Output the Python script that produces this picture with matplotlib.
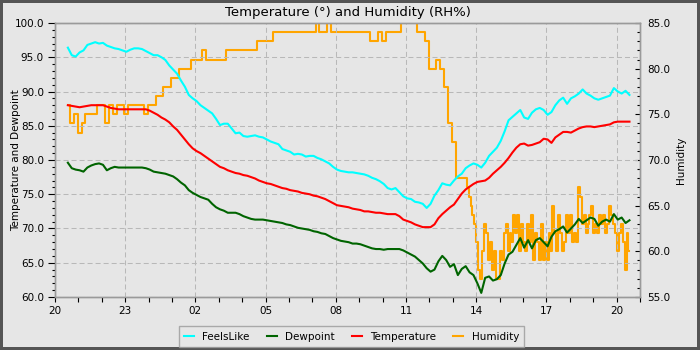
import pandas as pd
import matplotlib
matplotlib.use("Agg")
import matplotlib.pyplot as plt
import matplotlib.dates as mdates
from matplotlib.ticker import MultipleLocator, FormatStrFormatter

# one reading every 10 minutes, first one at 20:33
start_time = "2024-06-01 20:33"
step = "10min"

feels_like = [
    96.4, 95.3, 95.1, 95.7, 96.0, 96.8, 97.0, 97.2, 97.0, 97.1,
    96.7, 96.5, 96.3, 96.2, 96.0, 95.8, 96.1, 96.3, 96.3, 96.2,
    95.9, 95.6, 95.3, 95.3, 95.0, 94.6, 93.8, 93.2, 92.6, 91.6,
    90.7, 89.5, 89.0, 88.6, 88.0, 87.6, 87.2, 86.8, 86.0, 85.1,
    85.3, 85.3, 84.6, 83.9, 84.0, 83.5, 83.4, 83.5, 83.6, 83.4,
    83.3, 83.0, 82.7, 82.5, 82.3, 81.6, 81.4, 81.2, 80.8, 80.9,
    80.8, 80.5, 80.6, 80.6, 80.3, 80.1, 79.8, 79.5, 79.0, 78.6,
    78.4, 78.3, 78.2, 78.2, 78.1, 78.0, 77.9, 77.7, 77.4, 77.2,
    76.9, 76.5, 75.9, 75.7, 75.9, 75.3, 74.7, 74.4, 74.3, 73.9,
    73.8, 73.6, 73.0, 73.6, 74.8, 75.6, 76.6, 76.4, 76.3, 77.0,
    77.6, 78.0, 78.8, 79.2, 79.5, 79.3, 78.9, 79.6, 80.6, 81.2,
    81.8, 82.8, 84.2, 85.8, 86.3, 86.8, 87.3, 86.2, 86.0, 86.9,
    87.4, 87.6, 87.3, 86.6, 87.0, 88.0, 88.7, 89.1, 88.2, 89.0,
    89.3, 89.7, 90.3, 89.7, 89.4, 89.0, 88.8, 89.0, 89.2, 89.4,
    90.5, 90.0, 89.7, 90.1, 89.5,
]

temperature = [
    88.0, 87.9, 87.8, 87.7, 87.8, 87.9, 88.0, 88.0, 88.0, 88.0,
    87.8, 87.6, 87.5, 87.4, 87.4, 87.4, 87.4, 87.4, 87.4, 87.4,
    87.4, 87.2, 86.9, 86.6, 86.2, 85.9, 85.5, 84.9, 84.4, 83.7,
    83.0, 82.3, 81.7, 81.3, 81.0, 80.6, 80.2, 79.8, 79.4, 79.0,
    78.8, 78.5, 78.3, 78.1, 78.0, 77.8, 77.7, 77.5, 77.3, 77.0,
    76.8, 76.6, 76.5, 76.3, 76.1, 75.9, 75.8, 75.6, 75.5, 75.4,
    75.2, 75.1, 75.0, 74.8, 74.7, 74.5, 74.3, 74.0, 73.7, 73.4,
    73.3, 73.2, 73.1, 72.9, 72.8, 72.7, 72.5, 72.5, 72.4, 72.3,
    72.3, 72.2, 72.1, 72.1, 72.1, 71.8, 71.3, 71.1, 70.9, 70.6,
    70.4, 70.2, 70.2, 70.2, 70.6, 71.5, 72.1, 72.6, 73.1, 73.5,
    74.3, 75.1, 75.7, 76.1, 76.5, 76.8, 76.9, 77.0, 77.4, 78.0,
    78.5, 79.0, 79.6, 80.3, 81.1, 81.8, 82.3, 82.4, 82.1, 82.2,
    82.4, 82.6, 83.1, 83.0, 82.5, 83.3, 83.7, 84.1, 84.1, 84.0,
    84.3, 84.6, 84.8, 84.9, 84.9, 84.8, 84.9, 85.0, 85.1, 85.2,
    85.5, 85.6, 85.6, 85.6, 85.6,
]

dewpoint = [
    79.6, 78.8, 78.6, 78.5, 78.3, 78.9, 79.2, 79.4, 79.5, 79.3,
    78.5, 78.8, 79.0, 78.9, 78.9, 78.9, 78.9, 78.9, 78.9, 78.9,
    78.8, 78.6, 78.3, 78.2, 78.1, 78.0, 77.8, 77.6, 77.2, 76.7,
    76.3, 75.6, 75.2, 74.9, 74.6, 74.4, 74.2, 73.6, 73.1, 72.8,
    72.6, 72.3, 72.3, 72.3, 72.1, 71.8, 71.6, 71.4, 71.3, 71.3,
    71.3, 71.2, 71.1, 71.0, 70.9, 70.8, 70.6, 70.5, 70.3, 70.1,
    70.0, 69.9, 69.8, 69.6, 69.5, 69.3, 69.2, 68.9, 68.6, 68.4,
    68.2, 68.1, 68.0, 67.8, 67.8, 67.7, 67.5, 67.3, 67.1, 67.0,
    67.0, 66.9, 67.0, 67.0, 67.0, 67.0, 66.8, 66.5, 66.2, 65.9,
    65.4, 64.9, 64.2, 63.7, 64.0, 65.2, 66.0, 65.4, 64.4, 64.8,
    63.2, 64.1, 64.5, 63.6, 63.2, 62.0, 60.6, 62.8, 63.0, 62.4,
    62.6, 63.2, 64.9, 66.2, 66.6, 67.6, 68.6, 67.2, 68.3, 67.1,
    68.3, 68.6, 68.0, 67.4, 68.8, 69.6, 69.9, 70.3, 69.4, 70.0,
    70.6, 71.4, 70.8, 71.2, 71.6, 71.4, 70.4, 71.0, 71.3, 71.0,
    72.1, 71.3, 71.6, 70.8, 71.2,
]

# humidity: every 10 minutes until 13:03, then every 5 minutes from 13:13
humidity_early = [
    76, 74, 75, 73, 74, 75, 75, 75, 76, 76,
    74, 76, 75, 76, 76, 75, 76, 76, 76, 76,
    75, 76, 76, 77, 77, 78, 78, 79, 79, 80,
    80, 80, 81, 81, 81, 82, 81, 81, 81, 81,
    81, 82, 82, 82, 82, 82, 82, 82, 82, 83,
    83, 83, 83, 84, 84, 84, 84, 84, 84, 84,
    84, 84, 84, 84, 86, 84, 84, 86, 84, 84,
    84, 84, 84, 84, 84, 84, 84, 84, 83, 83,
    84, 83, 84, 84, 84, 84, 87, 87, 87, 87,
    84, 84, 83, 80, 80, 81, 80, 78, 74, 72,
]
late_start = "2024-06-02 13:13"
late_step = "5min"
humidity_late = [
    68, 68, 68, 68, 68, 67, 66, 65, 64, 63,
    61, 58, 57, 60, 63, 62, 59, 61, 58, 60,
    57, 57, 60, 59, 62, 63, 60, 62, 61, 64,
    62, 64, 60, 63, 61, 60, 63, 61, 64, 59,
    62, 61, 59, 63, 59, 61, 59, 62, 60, 65,
    62, 60, 64, 62, 60, 61, 64, 62, 64, 61,
    62, 61, 67, 66, 63, 64, 62, 63, 64, 65,
    62, 63, 62, 64, 63, 64, 62, 63, 65, 64,
    63, 62, 60, 62, 63, 61, 58, 62, 60,
]

BG = "#e6e6e6"
SPINE = "#9a9a9a"


def style_axes(ax, ax2):
    """Ticks, limits, grid and spines for both y axes"""
    ax.set_ylim(60, 100)
    ax.yaxis.set_major_locator(MultipleLocator(5))
    ax.yaxis.set_minor_locator(MultipleLocator(1))
    ax.yaxis.set_major_formatter(FormatStrFormatter("%.1f"))

    ax2.set_ylim(55, 85)
    ax2.yaxis.set_major_locator(MultipleLocator(5))
    ax2.yaxis.set_minor_locator(MultipleLocator(1))
    ax2.yaxis.set_major_formatter(FormatStrFormatter("%.1f"))

    # x axis: 20:00 to 21:00 the next day, label every 3 hours
    t0 = pd.Timestamp(start_time).normalize() + pd.Timedelta(hours=20)
    ax.set_xlim(t0, t0 + pd.Timedelta(hours=25))
    ax.xaxis.set_major_locator(mdates.HourLocator(byhour=[20, 23, 2, 5, 8, 11, 14, 17]))
    ax.xaxis.set_minor_locator(mdates.HourLocator())
    ax.xaxis.set_major_formatter(mdates.DateFormatter("%H"))

    ax.tick_params(axis="y", which="major", direction="out", length=5, width=0.8, labelsize=7.5, pad=3)
    ax.tick_params(axis="y", which="minor", direction="out", length=2.3, width=0.8)
    ax.tick_params(axis="x", which="both", direction="out", length=3.5, width=0.8, labelsize=7.5, pad=3)
    ax2.tick_params(axis="y", which="major", direction="in", length=3.5, width=0.8, labelsize=7.5, pad=5)
    ax2.tick_params(axis="y", which="minor", direction="in", length=2.2, width=0.8)

    ax.grid(True, which="major", color="#b8b8b8", linewidth=0.75, linestyle=(0, (4.8, 2.9)))

    for a in (ax, ax2):
        for s in a.spines.values():
            s.set_color(SPINE)
            s.set_linewidth(1.0)


def main():
    times = pd.date_range(start_time, periods=len(feels_like), freq=step)
    hum_times = pd.date_range(start_time, periods=len(humidity_early), freq=step).append(
        pd.date_range(late_start, periods=len(humidity_late), freq=late_step))
    humidity = humidity_early + humidity_late

    fig = plt.figure(figsize=(7, 3.5), dpi=100, facecolor=BG, edgecolor="#555555", linewidth=4)
    ax = fig.add_axes([55 / 700, 53 / 350, 585 / 700, 274 / 350])
    ax2 = ax.twinx()

    # humidity goes underneath the temperature lines
    ax.set_zorder(ax2.get_zorder() + 1)
    ax.patch.set_visible(False)
    ax2.patch.set_visible(False)

    h1, = ax.plot(times, feels_like, color="#00ffff", lw=1.5, label="FeelsLike")
    h2, = ax.plot(times, dewpoint, color="#006400", lw=1.5, label="Dewpoint")
    h3, = ax.plot(times, temperature, color="#ff0000", lw=1.5, label="Temperature")
    h4, = ax2.plot(hum_times, humidity, color="#ffa500", lw=1.5, label="Humidity", drawstyle="steps-mid")

    style_axes(ax, ax2)

    ax.set_title("Temperature (°) and Humidity (RH%)", fontsize=9.5, pad=5)
    ax.set_ylabel("Temperature and Dewpoint", fontsize=7.5)
    ax.yaxis.set_label_coords(-0.058, 0.5)
    ax2.set_ylabel("Humidity", fontsize=7.5)
    ax2.yaxis.set_label_coords(1.062, 0.5)

    leg = fig.legend(handles=[h1, h2, h3, h4], loc="center", bbox_to_anchor=(0.502, 0.038),
                     ncol=4, fontsize=7.5, frameon=True, fancybox=False,
                     handlelength=1.0, handletextpad=0.8, columnspacing=1.6, borderpad=0.5)
    leg.get_frame().set_edgecolor(SPINE)
    leg.get_frame().set_facecolor(BG)
    leg.get_frame().set_linewidth(1.0)

    fig.savefig("out.png", dpi=100, facecolor=BG, edgecolor="#555555")


if __name__ == "__main__":
    main()
